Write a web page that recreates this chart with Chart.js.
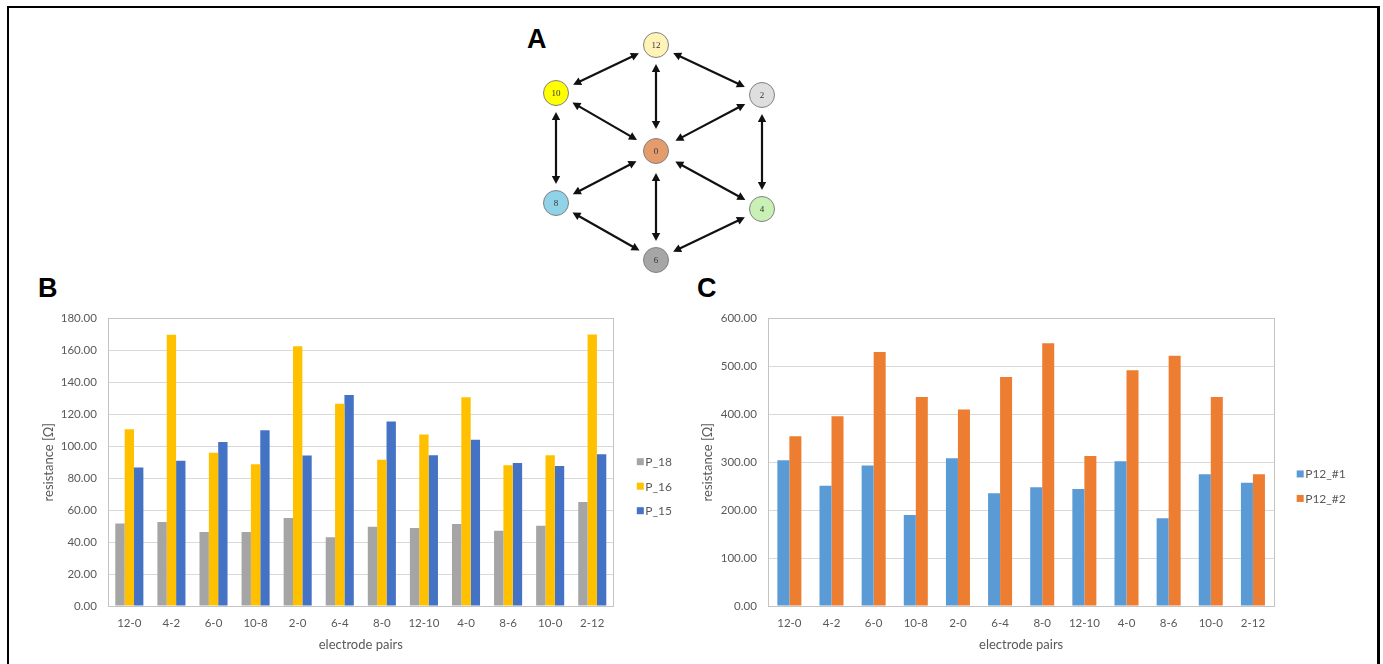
<!DOCTYPE html>
<html><head><meta charset="utf-8">
<script src="https://cdn.jsdelivr.net/npm/chart.js@4.4.1/dist/chart.umd.min.js"></script>
<style>
html,body{margin:0;padding:0;background:#fff;width:1383px;height:664px;overflow:hidden;}
#frame{position:absolute;left:7px;top:6px;width:1368px;height:720px;border-top:2px solid #000;border-left:2px solid #000;border-right:3px solid #000;}
.lbl{position:absolute;font-family:"Liberation Sans",Arial,sans-serif;font-weight:bold;font-size:27px;line-height:27px;color:#000;}
canvas{position:absolute;}
</style></head><body>
<div id="frame"></div>
<div class="lbl" style="left:527px;top:26px">A</div>
<div class="lbl" style="left:38px;top:275px">B</div>
<div class="lbl" style="left:697px;top:275px">C</div>
<canvas id="cA" width="280" height="265" style="left:520px;top:20px"></canvas>
<canvas id="cB" width="670" height="364" style="left:20px;top:300px"></canvas>
<canvas id="cC" width="693" height="364" style="left:690px;top:300px"></canvas>
<script>
// ---------- Data ----------
// Panel A: electrode layout
const nodeLabels = ['12','10','2','0','8','4','6'];
const nodeX = [0, -100, 106, 0, -100, 106, 0];
const nodeY = [0, 48, 50, 106, 158, 164, 215];
const nodeColors = ['#FFF3B8','#FFFF00','#DEDEDE','#E49C6C','#90D2E8','#C9F1B5','#A6A6A6'];
const edges = [[0,1],[0,2],[0,3],[1,3],[2,3],[1,4],[2,5],[4,3],[5,3],[3,6],[4,6],[5,6]];

// Panels B and C
const categories = ['12-0','4-2','6-0','10-8','2-0','6-4','8-0','12-10','4-0','8-6','10-0','2-12'];
const P_18 = [51.7, 52.5, 46.3, 46.3, 55.0, 43.0, 49.6, 48.8, 51.3, 47.1, 50.3, 65.1];
const P_16 = [110.6, 169.7, 95.9, 88.7, 162.5, 126.6, 91.6, 107.3, 130.6, 88.1, 94.3, 169.9];
const P_15 = [86.7, 90.9, 102.6, 110.0, 94.2, 132.0, 115.4, 94.3, 104.0, 89.5, 87.6, 94.9];
const P12_1 = [304, 251, 293, 190, 308, 235, 248, 244, 302, 183, 275, 257];
const P12_2 = [354, 396, 530, 436, 410, 478, 548, 313, 492, 522, 436, 275];
const yTicksB = {min: 0, max: 180, step: 20};
const yTicksC = {min: 0, max: 600, step: 100};

function start(){
Chart.defaults.font.family = 'Lato, "Open Sans", sans-serif';
Chart.defaults.color = '#595959';

// ---------- Panel A ----------
const arrowPlugin = {
  id: 'arrows',
  afterDatasetsDraw(chart){
    const {ctx, scales:{x, y}} = chart;
    ctx.save();
    ctx.strokeStyle = '#111'; ctx.fillStyle = '#111'; ctx.lineWidth = 2.2;
    const gap = i => (i === 3 ? 22 : 19);
    edges.forEach(([a, b]) => {
      const x1 = x.getPixelForValue(nodeX[a]), y1 = y.getPixelForValue(nodeY[a]);
      const x2 = x.getPixelForValue(nodeX[b]), y2 = y.getPixelForValue(nodeY[b]);
      const dx = x2 - x1, dy = y2 - y1, L = Math.hypot(dx, dy), ux = dx / L, uy = dy / L;
      const sx = x1 + ux * gap(a), sy = y1 + uy * gap(a);
      const ex = x2 - ux * gap(b), ey = y2 - uy * gap(b);
      const head = 8, hw = 4.2;
      ctx.beginPath();
      ctx.moveTo(sx + ux * head * 0.7, sy + uy * head * 0.7);
      ctx.lineTo(ex - ux * head * 0.7, ey - uy * head * 0.7);
      ctx.stroke();
      const tri = (px, py, dirx, diry) => {
        ctx.beginPath();
        ctx.moveTo(px, py);
        ctx.lineTo(px - dirx * head - diry * hw, py - diry * head + dirx * hw);
        ctx.lineTo(px - dirx * head + diry * hw, py - diry * head - dirx * hw);
        ctx.closePath(); ctx.fill();
      };
      tri(ex, ey, ux, uy);
      tri(sx, sy, -ux, -uy);
    });
    ctx.restore();
  },
  afterDraw(chart){
    const {ctx} = chart;
    const meta = chart.getDatasetMeta(0);
    ctx.save();
    ctx.font = '9px "Liberation Serif", serif';
    ctx.fillStyle = '#333';
    ctx.textAlign = 'center'; ctx.textBaseline = 'middle';
    meta.data.forEach((pt, i) => ctx.fillText(nodeLabels[i], pt.x, pt.y + 0.5));
    ctx.restore();
  }
};

new Chart(document.getElementById('cA'), {
  type: 'scatter',
  data: {datasets: [{
    data: nodeX.map((v, i) => ({x: v, y: nodeY[i]})),
    backgroundColor: nodeColors,
    borderColor: '#808080',
    borderWidth: 1,
    pointRadius: 12.5,
    pointHoverRadius: 12.5,
    clip: false
  }]},
  options: {
    responsive: false, animation: false, events: [],
    layout: {padding: 0, autoPadding: false},
    plugins: {legend: {display: false}, tooltip: {enabled: false}},
    scales: {
      x: {type: 'linear', display: false, min: -136, max: 144},
      y: {type: 'linear', display: false, min: -25, max: 240, reverse: true}
    }
  },
  plugins: [arrowPlugin]
});

// ---------- Panels B and C ----------
const plotBox = {
  id: 'plotBox',
  beforeDatasetsDraw(chart){
    const {ctx, chartArea: ca} = chart;
    ctx.save();
    ctx.strokeStyle = '#C4C4C4'; ctx.lineWidth = 1;
    ctx.strokeRect(Math.round(ca.left) + 0.5, Math.round(ca.top) + 0.5,
                   Math.round(ca.right - ca.left), Math.round(ca.bottom - ca.top));
    ctx.restore();
  }
};
const xlLegend = {
  id: 'xlLegend',
  afterDraw(chart, args, o){
    const ca = chart.chartArea, ctx = chart.ctx;
    const ds = chart.data.datasets, n = ds.length;
    const mid = (ca.top + ca.bottom) / 2 + 24;
    ctx.save();
    ctx.font = '12px Lato, "Open Sans", sans-serif';
    ctx.textBaseline = 'middle'; ctx.textAlign = 'left';
    ds.forEach((d, i) => {
      const cy = mid + (i - (n - 1) / 2) * 24.5;
      const bx = ca.right + o.dx;
      ctx.fillStyle = d.backgroundColor;
      ctx.fillRect(bx, cy - 3.5, 7, 7);
      ctx.fillStyle = '#595959';
      ctx.fillText(d.label, bx + 8.5, cy + 0.5);
    });
    ctx.restore();
  }
};

function barChart(id, datasets, yt, cfg){
  return new Chart(document.getElementById(id), {
    type: 'bar',
    data: {labels: categories, datasets: datasets.map(d => Object.assign({
      borderWidth: 0, categoryPercentage: cfg.cat, barPercentage: 1
    }, d))},
    options: {
      responsive: false, animation: false, events: [],
      layout: {padding: {left: 0, top: cfg.top, right: cfg.right, bottom: 0}},
      plugins: {legend: {display: false}, tooltip: {enabled: false}, xlLegend: {dx: cfg.legDx}},
      scales: {
        x: {
          grid: {display: false, drawTicks: false},
          border: {display: false},
          ticks: {padding: 10, color: '#595959', font: {size: 11.5}, maxRotation: 0, autoSkip: false},
          title: {display: true, text: 'electrode pairs', color: '#595959', font: {size: 13}, padding: {top: 4, bottom: 11}},
          afterFit: s => { s.height = 58; }
        },
        y: {
          min: yt.min, max: yt.max,
          grid: {color: '#D9D9D9', lineWidth: 1, drawTicks: false},
          border: {display: false},
          ticks: {stepSize: yt.step, padding: 11.5, color: '#595959', font: {size: 11.5},
                  callback: v => Number(v).toFixed(2)},
          title: {display: true, text: 'resistance [Ω]', color: '#595959', font: {size: 13}, padding: {top: cfg.titlePad, bottom: 0}},
          afterFit: s => { s.width = cfg.yw; }
        }
      }
    },
    plugins: [plotBox, xlLegend]
  });
}

barChart('cB', [
  {label: 'P_18', data: P_18, backgroundColor: '#A5A5A5'},
  {label: 'P_16', data: P_16, backgroundColor: '#FFC000'},
  {label: 'P_15', data: P_15, backgroundColor: '#4472C4'}
], yTicksB, {cat: 0.667, top: 13.3, right: 76.7, yw: 88.3, titlePad: 20.7, legDx: 23.5});

barChart('cC', [
  {label: 'P12_#1', data: P12_1, backgroundColor: '#5B9BD5'},
  {label: 'P12_#2', data: P12_2, backgroundColor: '#ED7D31'}
], yTicksC, {cat: 0.57, top: 17.5, right: 109, yw: 78.3, titlePad: 10.5, legDx: 22.7});
}

Promise.all([
  document.fonts.load('12px Lato'),
  document.fonts.load('bold 27px "Liberation Sans"'),
  document.fonts.load('9px "Liberation Serif"')
]).then(start, start);
</script>
</body></html>
